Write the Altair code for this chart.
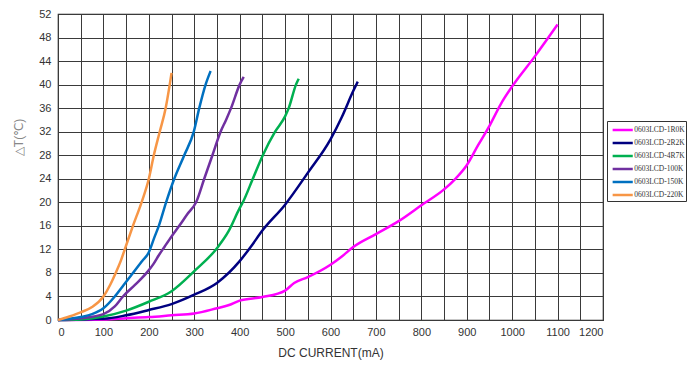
import altair as alt
import pandas as pd

series_names = ["0603LCD-1R0K", "0603LCD-2R2K", "0603LCD-4R7K",
                "0603LCD-100K", "0603LCD-150K", "0603LCD-220K"]
colors = ["#FF00FF", "#000080", "#00B050", "#7030A0", "#0070C0", "#F79646"]

x_1r0k = [0, 100, 150, 200, 250, 300, 350, 375, 400, 450, 500, 520, 550, 600, 625, 650,
          700, 750, 800, 850, 875, 900, 925, 950, 975, 1000, 1050, 1100]
y_1r0k = [0, 0.1, 0.3, 0.5, 0.8, 1.1, 2.0, 2.5, 3.3, 3.9, 5.0, 6.3, 7.3, 9.4, 10.8, 12.4,
          14.6, 16.8, 19.5, 22.2, 24.0, 26.3, 29.7, 33.0, 36.7, 39.7, 44.8, 50.2]

x_2r2k = [0, 100, 150, 200, 250, 300, 350, 400, 425, 450, 500, 550, 600, 625, 650, 660]
y_2r2k = [0, 0.2, 0.8, 1.7, 2.7, 4.3, 6.3, 10.0, 12.5, 15.2, 19.6, 25.0, 30.7, 34.5, 38.9, 40.5]

x_4r7k = [0, 50, 100, 150, 200, 250, 300, 350, 375, 400, 407, 429, 451, 478, 500, 508, 524, 530]
y_4r7k = [0, 0.1, 0.6, 1.6, 3.1, 4.9, 8.3, 12.2, 15.0, 19.0, 20.0, 24.0, 28.0, 32.0, 34.6, 36.0, 40.0, 41.0]

x_100k = [0, 50, 100, 125, 143, 170, 195, 210, 222, 235, 250, 267, 285, 304, 322, 340, 358, 370, 381, 400, 409]
y_100k = [0, 0.3, 1.0, 2.3, 4.0, 6.0, 8.0, 9.5, 11.0, 12.5, 14.2, 16.0, 18.0, 20.0, 24.0, 28.0, 32.0, 34.0, 36.0, 40.0, 41.3]

x_150k = [0, 50, 75, 100, 125, 145, 165, 185, 200, 212, 222, 238, 256, 278, 299, 311, 325, 336]
y_150k = [0, 0.5, 1.0, 2.0, 4.0, 6.0, 8.0, 10.0, 11.5, 14.0, 16.0, 20.0, 24.0, 28.0, 32.0, 36.0, 40.0, 42.3]

x_220k = [0, 25, 50, 75, 100, 115, 127, 138, 147, 165, 184, 200, 211, 224, 237, 246, 250]
y_220k = [0, 0.6, 1.3, 2.2, 4.0, 6.0, 8.0, 10.0, 12.0, 16.0, 20.0, 24.0, 28.0, 32.0, 36.0, 40.0, 42.0]

xs = [x_1r0k, x_2r2k, x_4r7k, x_100k, x_150k, x_220k]
ys = [y_1r0k, y_2r2k, y_4r7k, y_100k, y_150k, y_220k]

rows = []
for name, xv, yv in zip(series_names, xs, ys):
    for i, (a, b) in enumerate(zip(xv, yv)):
        rows.append({"series": name, "current": a, "dt": b, "order": i})
df = pd.DataFrame(rows)

x_grid = list(range(0, 1201, 50))
y_ticks = list(range(0, 53, 4))

chart = alt.Chart(df).mark_line(strokeWidth=2.5, interpolate="monotone").encode(
    x=alt.X("current:Q", scale=alt.Scale(domain=[0, 1200], nice=False),
            axis=alt.Axis(values=x_grid, title="DC CURRENT(mA)", format="d",
                          labelExpr="datum.value % 100 == 0 ? datum.label : ''",
                          grid=True, ticks=False, domain=False, labelPadding=6,
                          titleY=27, titleBaseline="top")),
    y=alt.Y("dt:Q", scale=alt.Scale(domain=[0, 52], nice=False),
            axis=alt.Axis(values=y_ticks, title="△T(℃)", grid=True, ticks=False,
                          domain=False, labelPadding=7,
                          titleX=-40, titleY=123, titleAlign="center",
                          titleBaseline="middle", titleColor="#888888")),
    color=alt.Color("series:N",
                    scale=alt.Scale(domain=series_names, range=colors),
                    legend=alt.Legend(title=None, orient="none", legendX=549, legendY=107,
                                      symbolType="M-1.5,0H1.5", symbolSize=180,
                                      symbolStrokeWidth=2.5, labelFont="Liberation Serif",
                                      labelFontSize=7.5, labelColor="#333333",
                                      strokeColor="#333333", padding=1, rowPadding=0,
                                      labelOffset=3.5, symbolOffset=6.7)),
    order="order:Q",
).properties(
    width=545, height=306,
    autosize=alt.AutoSizeParams(type="none"),
    padding={"left": 50, "top": 6, "right": 84, "bottom": 45},
).configure_view(
    stroke="#222222", strokeWidth=1.2
).configure_axis(
    gridColor="#3a3a3a", gridOpacity=1, gridWidth=1,
    labelFont="Liberation Sans", labelFontSize=11, labelColor="#333333",
    titleFont="Liberation Sans", titleFontSize=12, titleFontWeight="normal",
    titleColor="#333333"
)

chart.save("out.html", embed_options={"renderer": "svg", "actions": False})
